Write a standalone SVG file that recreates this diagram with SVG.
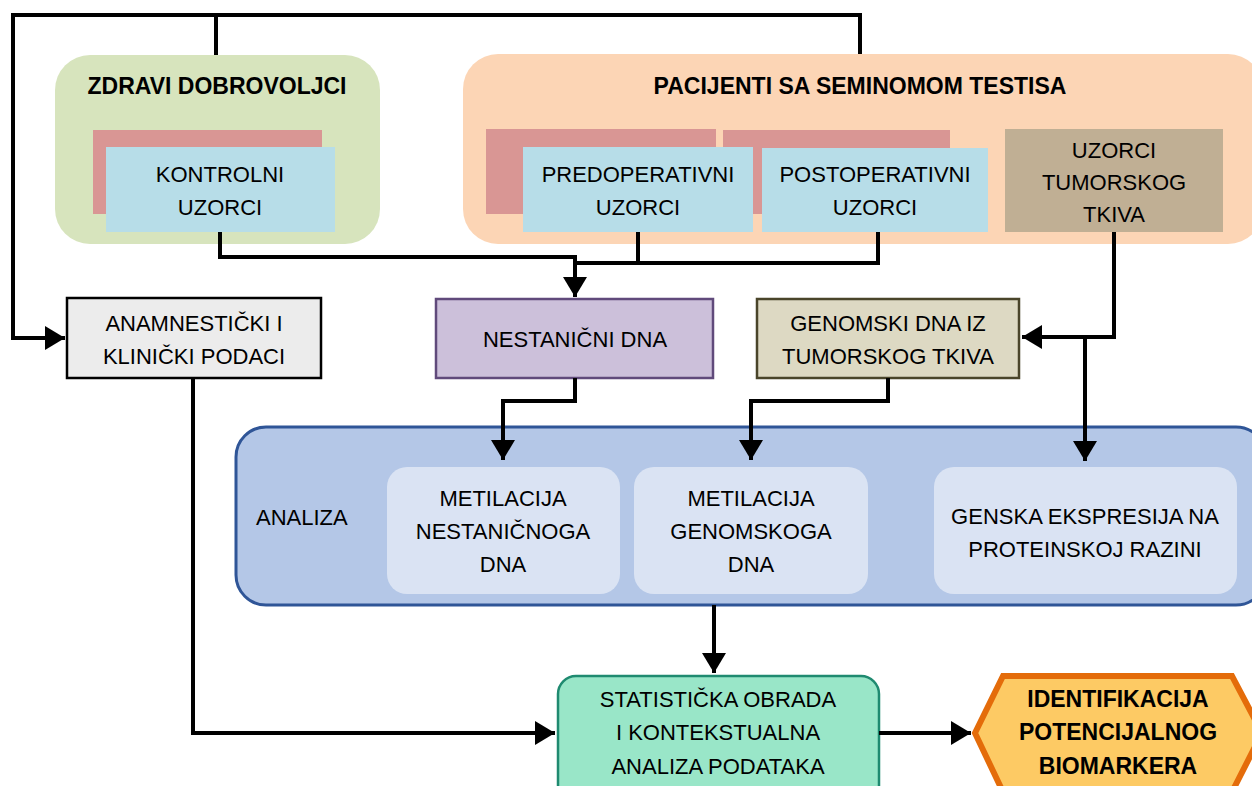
<svg xmlns="http://www.w3.org/2000/svg" width="1252" height="786" viewBox="0 0 1252 786">
<defs>
<marker id="ah" markerUnits="userSpaceOnUse" markerWidth="22" markerHeight="24" refX="20" refY="12" orient="auto">
<path d="M0,0 L20,12 L0,24 z" fill="#000"/>
</marker>
<style>
text{font-family:"Liberation Sans",Arial,sans-serif;font-size:22px;fill:#000;text-anchor:middle}
.b{font-weight:bold;font-size:23px}
.c{fill:none;stroke:#000;stroke-width:4;stroke-linejoin:miter}
.blue{fill:#b7dde8}
.pink{fill:#d99694}
.inner{fill:#dae3f3}
</style>
</defs>
<rect width="1252" height="786" fill="#fff"/>

<g id="zdravi">
<rect x="55" y="55" width="325" height="189" rx="35" fill="#d7e4bd"/>
<text class="b" x="217" y="94">ZDRAVI DOBROVOLJCI</text>
</g>
<g id="kontrolni">
<rect class="pink" x="93" y="130" width="229" height="84"/>
<rect class="blue" x="106" y="147" width="229" height="85"/>
<text x="220" y="182">KONTROLNI</text>
<text x="220" y="215">UZORCI</text>
</g>

<g id="pacijenti">
<rect x="463" y="54" width="800" height="190" rx="35" fill="#fcd5b5"/>
<text class="b" x="860" y="94">PACIJENTI SA SEMINOMOM TESTISA</text>
</g>
<g id="postoperativni">
<rect class="pink" x="723" y="130" width="227" height="84"/>
<rect class="blue" x="762" y="148" width="226" height="84"/>
<text x="875" y="182">POSTOPERATIVNI</text>
<text x="875" y="215">UZORCI</text>
</g>
<g id="predoperativni">
<rect class="pink" x="486" y="129" width="230" height="85"/>
<rect class="blue" x="523" y="147" width="230" height="85"/>
<text x="638" y="182">PREDOPERATIVNI</text>
<text x="638" y="215">UZORCI</text>
</g>
<g id="tumorsko">
<rect x="1005" y="129" width="218" height="103" fill="#c0af94"/>
<text x="1114" y="158">UZORCI</text>
<text x="1114" y="190">TUMORSKOG</text>
<text x="1114" y="222">TKIVA</text>
</g>

<g id="anamnesticki">
<rect x="67" y="298" width="254" height="80" fill="#ececec" stroke="#000" stroke-width="2.5"/>
<text x="194" y="331">ANAMNESTIČKI I</text>
<text x="194" y="364">KLINIČKI PODACI</text>
</g>
<g id="nestanicni">
<rect x="436" y="299" width="277" height="79" fill="#ccc0da" stroke="#604a7b" stroke-width="2.5"/>
<text x="575" y="347">NESTANIČNI DNA</text>
</g>
<g id="genomski">
<rect x="757" y="299" width="262" height="79" fill="#ddd9c3" stroke="#4a452a" stroke-width="2.5"/>
<text x="888" y="331">GENOMSKI DNA IZ</text>
<text x="888" y="364">TUMORSKOG TKIVA</text>
</g>

<g id="analiza">
<rect x="236" y="427" width="1030" height="178" rx="30" fill="#b4c7e7" stroke="#2f5597" stroke-width="3"/>
<text x="256" y="525" style="text-anchor:start">ANALIZA</text>
</g>
<g id="metilacija-nestanicnoga">
<rect class="inner" x="387" y="467" width="233" height="127" rx="20"/>
<text x="503" y="506">METILACIJA</text>
<text x="503" y="539">NESTANIČNOGA</text>
<text x="503" y="572">DNA</text>
</g>
<g id="metilacija-genomskoga">
<rect class="inner" x="634" y="467" width="234" height="127" rx="20"/>
<text x="751" y="506">METILACIJA</text>
<text x="751" y="539">GENOMSKOGA</text>
<text x="751" y="572">DNA</text>
</g>
<g id="ekspresija">
<rect class="inner" x="934" y="467" width="303" height="127" rx="20"/>
<text x="1085" y="524">GENSKA EKSPRESIJA NA</text>
<text x="1085" y="557">PROTEINSKOJ RAZINI</text>
</g>

<g id="statisticka">
<rect x="558" y="676" width="321" height="130" rx="18" fill="#99e6c8" stroke="#1f8a70" stroke-width="2.5"/>
<text x="718" y="707">STATISTIČKA OBRADA</text>
<text x="718" y="740">I KONTEKSTUALNA</text>
<text x="718" y="774">ANALIZA PODATAKA</text>
</g>
<g id="biomarker">
<polygon points="975,733 1003,676 1232,676 1262,733 1232,792 1003,792" fill="#fdca64" stroke="#e46c0a" stroke-width="6" stroke-linejoin="miter"/>
<text class="b" x="1118" y="707">IDENTIFIKACIJA</text>
<text class="b" x="1118" y="740">POTENCIJALNOG</text>
<text class="b" x="1118" y="774">BIOMARKERA</text>
</g>

<g id="connectors">
<polyline class="c" points="216,55 216,15 860,15 860,54"/>
<polyline class="c" points="216,15 13,15 13,338 65,338" marker-end="url(#ah)"/>
<polyline class="c" points="220,232 220,257 575,257 575,297" marker-end="url(#ah)"/>
<polyline class="c" points="575,263 878,263 878,232"/>
<polyline class="c" points="638,232 638,263"/>
<polyline class="c" points="1114,232 1114,337 1022,337" marker-end="url(#ah)"/>
<polyline class="c" points="1085,337 1085,461" marker-end="url(#ah)"/>
<polyline class="c" points="575,378 575,401 503,401 503,460" marker-end="url(#ah)"/>
<polyline class="c" points="888,378 888,401 751,401 751,460" marker-end="url(#ah)"/>
<polyline class="c" points="714,605 714,673" marker-end="url(#ah)"/>
<polyline class="c" points="193,378 193,733 555,733" marker-end="url(#ah)"/>
<polyline class="c" points="879,733 971,733" marker-end="url(#ah)"/>
</g>
</svg>
